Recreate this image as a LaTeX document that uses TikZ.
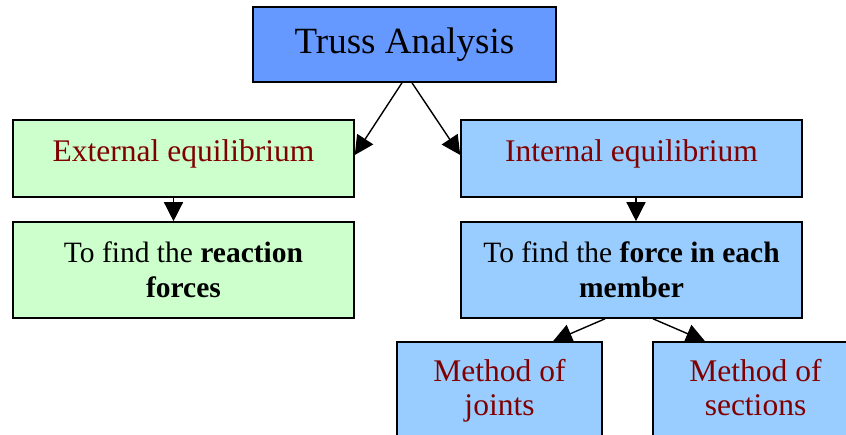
\documentclass[tikz,border=0pt]{standalone}
\usepackage{fontspec}
\setmainfont{Liberation Serif}
\usetikzlibrary{arrows.meta}
\definecolor{topblue}{HTML}{6699FF}
\definecolor{palegreen}{HTML}{CCFFCC}
\definecolor{paleblue}{HTML}{99CCFF}
\definecolor{darkred}{HTML}{800000}

\begin{document}
\begin{tikzpicture}[x=1pt, y=-1pt,
  box/.style={draw, line width=1.6pt, inner sep=0pt, align=center},
  headbox/.style={box, fill=topblue, minimum width=303pt, minimum height=75pt,
    font=\fontsize{37}{40}\selectfont},
  eqbox/.style={box, minimum width=341pt, minimum height=77pt, text=darkred,
    text depth=15pt, font=\fontsize{31.5}{34}\selectfont},
  goalbox/.style={box, minimum width=341pt, minimum height=96pt,
    font=\fontsize{29.5}{34.5}\selectfont},
  methodbox/.style={box, fill=paleblue, minimum width=205pt, minimum height=100pt,
    text=darkred, font=\fontsize{31.5}{33.5}\selectfont},
  link/.style={-{Triangle[length=19pt,width=19pt]}, line width=1.4pt}]
  \useasboundingbox (0,0) rectangle (846,435);

  \node[headbox] (truss) at (404.5,44.5) {Truss Analysis};

  \node[eqbox, fill=palegreen] (ext) at (183.5,158.5) {External equilibrium};
  \node[goalbox, fill=palegreen] (react) at (183.5,270) {To find the \textbf{reaction}\\\textbf{forces}};

  \node[eqbox, fill=paleblue] (int) at (631.5,158.5) {Internal equilibrium};
  \node[goalbox, fill=paleblue] (force) at (631.5,270) {To find the \textbf{force in each}\\\textbf{member}};

  \node[methodbox] (joints) at (499.5,392) {\strut Method of\\joints\strut};
  \node[methodbox] (sect) at (755.5,392) {\strut Method of\\sections\strut};

  \draw[link] ([xshift=-2.5pt]truss.south) -- ([yshift=3.5pt]ext.east);
  \draw[link] ([xshift=7.5pt]truss.south) -- ([yshift=3.5pt]int.west);
  \draw[link] ([xshift=-10pt]ext.south) -- ([xshift=-10pt]react.north);
  \draw[link] ([xshift=4.5pt]int.south) -- ([xshift=4.5pt]force.north);
  \draw[link] ([xshift=-26.5pt]force.south) -- ([xshift=53.5pt]joints.north);
  \draw[link] ([xshift=21.5pt]force.south) -- ([xshift=-50.5pt]sect.north);
\end{tikzpicture}
\end{document}
